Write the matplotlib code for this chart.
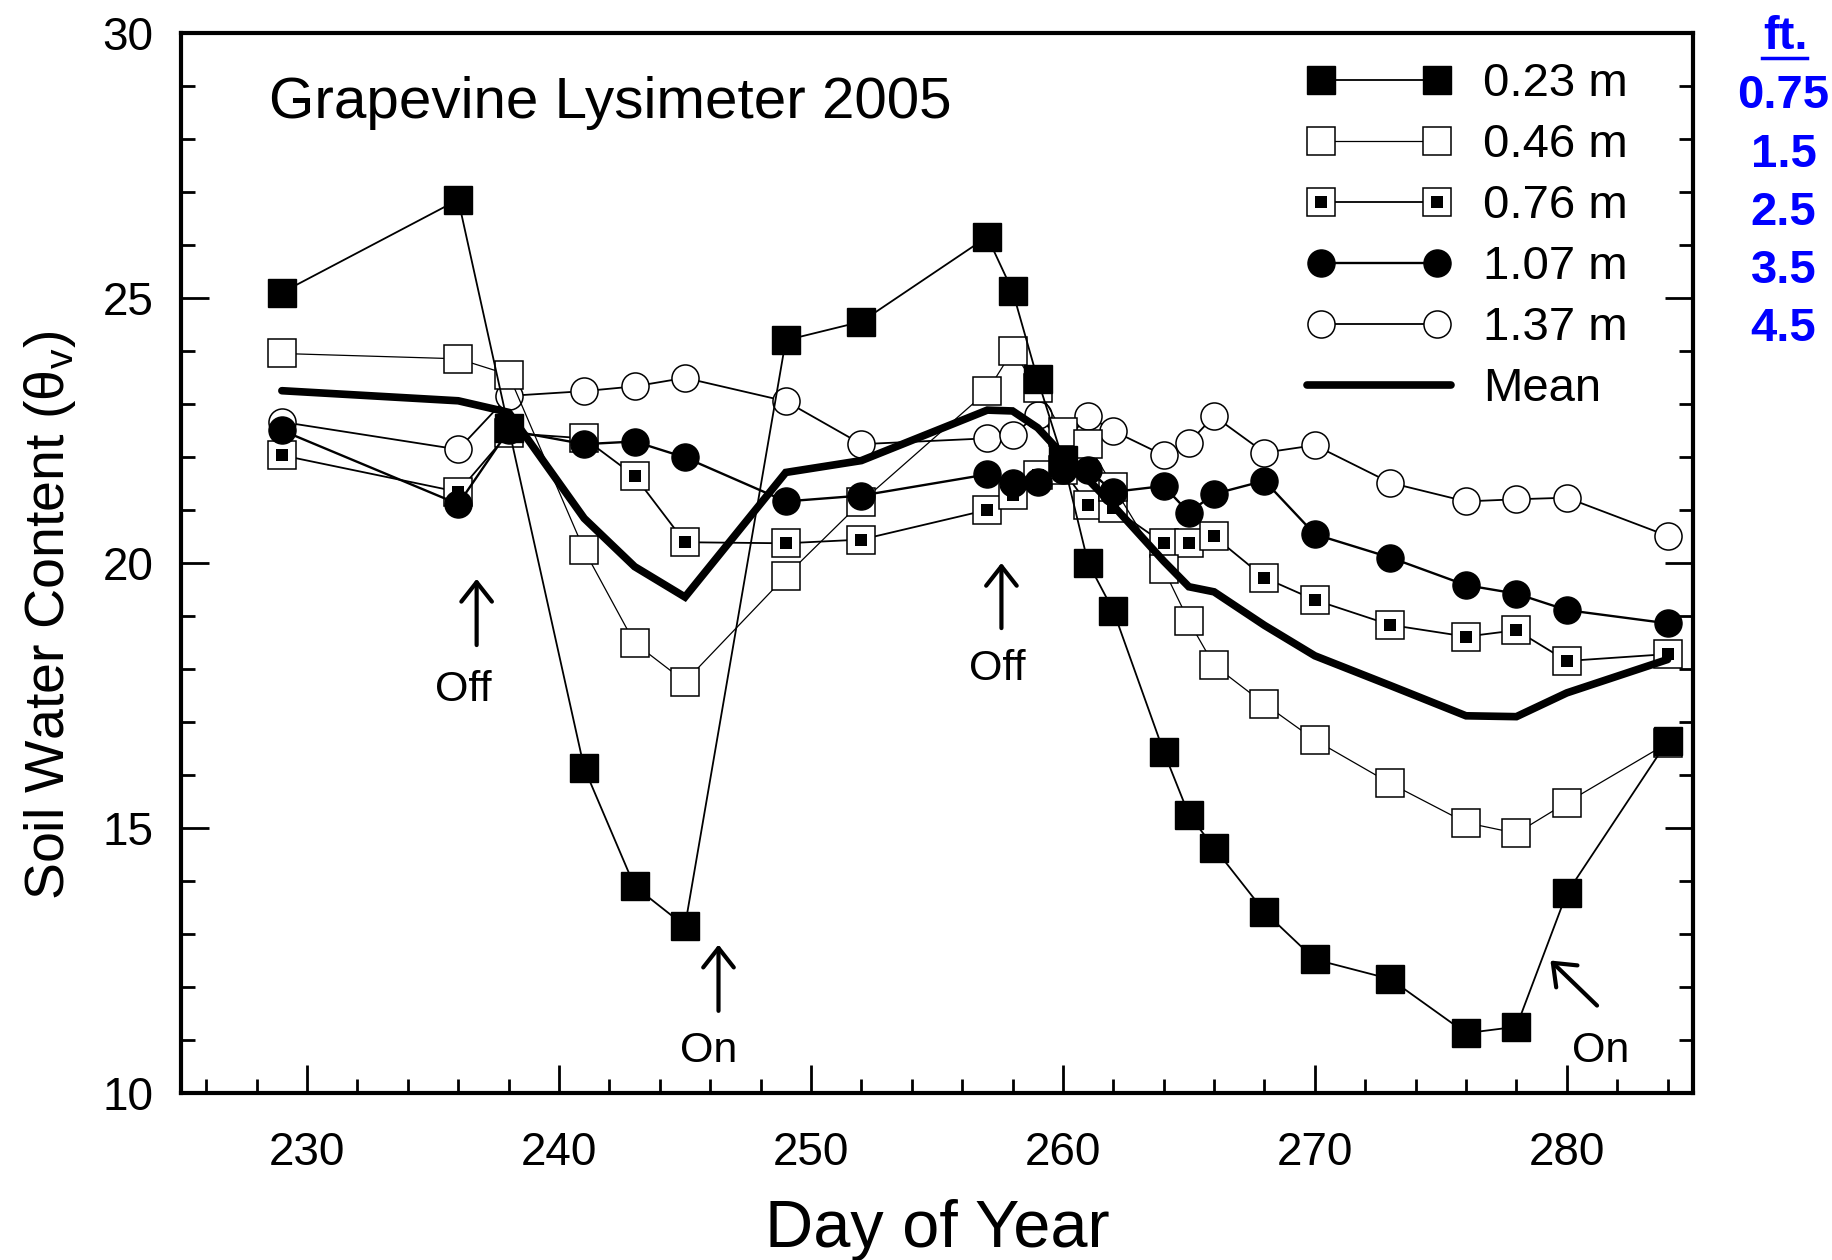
import numpy as np
import matplotlib
matplotlib.use('Agg')
import matplotlib.pyplot as plt
from matplotlib.legend_handler import HandlerLine2D, HandlerTuple
from matplotlib.lines import Line2D
from matplotlib.ticker import MultipleLocator

plt.rcParams['font.family'] = ['Liberation Sans', 'DejaVu Sans']

# day of year of each reading
days = [229, 236, 238, 241, 243, 245, 249, 252, 257, 258, 259, 260,
        261, 262, 264, 265, 266, 268, 270, 273, 276, 278, 280, 284]

# soil water content by depth
swc_023 = [25.1, 26.85, 22.55, 16.13, 13.9, 13.15, 24.2, 24.55, 26.15, 25.13, 23.46, 21.95,
           20.0, 19.1, 16.44, 15.25, 14.63, 13.42, 12.52, 12.15, 11.13, 11.25, 13.77, 16.64]
swc_046 = [23.95, 23.85, 23.55, 20.24, 18.49, 17.76, 19.75, 21.15, 23.24, 24.0, 23.3, 22.46,
           22.24, 21.44, 19.88, 18.9, 18.07, 17.34, 16.66, 15.84, 15.1, 14.9, 15.48, 16.6]
swc_076 = [22.03, 21.34, 22.45, 22.35, 21.64, 20.39, 20.37, 20.44, 21.0, 21.28, 21.66, 21.75,
           21.1, 21.03, 20.37, 20.38, 20.5, 19.72, 19.3, 18.83, 18.61, 18.73, 18.15, 18.28]
swc_107 = [22.5, 21.11, 22.5, 22.24, 22.29, 21.99, 21.16, 21.27, 21.67, 21.5, 21.53, 21.75,
           21.76, 21.34, 21.45, 20.95, 21.3, 21.55, 20.54, 20.1, 19.58, 19.42, 19.11, 18.86]
swc_137 = [22.66, 22.14, 23.15, 23.24, 23.33, 23.49, 23.05, 22.24, 22.35, 22.42, 22.79, 22.26,
           22.77, 22.49, 22.03, 22.27, 22.77, 22.08, 22.22, 21.51, 21.16, 21.2, 21.23, 20.51]

depth_labels = ['0.23 m', '0.46 m', '0.76 m', '1.07 m', '1.37 m']
depth_ft = ['0.75', '1.5', '2.5', '3.5', '4.5']

# irrigation on/off notes: (text, arrow tail, arrow head, text position)
notes = [
    ('Off', (236.73, 18.45), (236.73, 19.7), (236.2, 17.6)),
    ('Off', (257.56, 18.77), (257.56, 20.0), (257.4, 18.0)),
    ('On', (246.33, 11.55), (246.33, 12.8), (245.95, 10.8)),
    ('On', (281.2, 11.65), (279.35, 12.5), (281.35, 10.8)),
]

mean_swc = np.mean([swc_023, swc_046, swc_076, swc_107, swc_137], axis=0)

fig = plt.figure(figsize=(18.33, 12.6), dpi=100)
ax = fig.add_axes([0.0988, 0.1325, 0.8247, 0.8415])

ms = 19.5
l1, = ax.plot(days, swc_023, color='black', lw=1.3, marker='s', ms=ms,
              mfc='black', mec='black', mew=1, zorder=8)
l2, = ax.plot(days, swc_046, color='black', lw=0.9, marker='s', ms=ms,
              mfc='white', mec='black', mew=1.1, zorder=5)
l3a, = ax.plot(days, swc_076, color='black', lw=1.3, marker='s', ms=ms,
               mfc='white', mec='black', mew=1.1, zorder=4)
l3b, = ax.plot(days, swc_076, ls='none', marker='s', ms=8,
               mfc='black', mec='black', mew=0, zorder=4.1)
l4, = ax.plot(days, swc_107, color='black', lw=1.7, marker='o', ms=ms,
              mfc='black', mec='black', mew=1, zorder=6)
l5, = ax.plot(days, swc_137, color='black', lw=1.3, marker='o', ms=ms,
              mfc='white', mec='black', mew=1.1, zorder=3)
lm, = ax.plot(days, mean_swc, color='black', lw=5.5, solid_capstyle='round',
              solid_joinstyle='miter', zorder=7)

for txt, tail, head, pos in notes:
    ax.annotate('', xy=head, xytext=tail,
                arrowprops=dict(arrowstyle='->,head_length=1.4,head_width=1.1',
                                lw=3, color='black', shrinkA=0, shrinkB=0))
    ax.text(pos[0], pos[1], txt, fontsize=31, ha='center', va='center')

ax.set_xlim(225, 285)
ax.set_ylim(10, 30)
ax.xaxis.set_major_locator(MultipleLocator(10))
ax.xaxis.set_minor_locator(MultipleLocator(2))
ax.yaxis.set_major_locator(MultipleLocator(5))
ax.yaxis.set_minor_locator(MultipleLocator(1))
ax.tick_params(which='both', direction='in', width=2, right=True, top=False,
               labelsize=33)
ax.tick_params(which='major', length=20)
ax.tick_params(which='minor', length=10)
ax.tick_params(axis='x', pad=27)
ax.tick_params(axis='y', pad=20)
for sp in ax.spines.values():
    sp.set_linewidth(3)

ax.set_xlabel('Day of Year', fontsize=48)
ax.xaxis.set_label_coords(0.5, -0.1)
ax.set_ylabel('Soil Water Content (θ$_{\\mathregular{v}}$)', fontsize=40)
ax.yaxis.set_label_coords(-0.068, 0.45)

ax.text(0.058, 0.9195, 'Grapevine Lysimeter 2005', transform=ax.transAxes,
        fontsize=42, va='baseline', ha='left')

handles = [l1, l2, (l3a, l3b), l4, l5, lm]
labels = depth_labels + ['Mean']
ax.legend(handles, labels, loc='upper left', bbox_to_anchor=(0.745, 0.972),
          numpoints=2, frameon=False, fontsize=34, handlelength=3.05,
          handletextpad=0.68, labelspacing=0.36, borderpad=0, borderaxespad=0,
          handler_map={tuple: HandlerTuple(ndivide=1),
                       lm: HandlerLine2D(marker_pad=0)})

# depth in feet, right of the frame
fig.text(0.974, 0.971, 'ft.', color='blue', fontsize=34, fontweight='bold',
         ha='center', va='center')
fig.add_artist(Line2D([0.961, 0.986], [0.954, 0.954], color='blue', lw=2.5,
                      transform=fig.transFigure))
for i, f in enumerate(depth_ft):
    fig.text(0.973, 0.9235 - i * 0.0462, f, color='blue', fontsize=34,
             fontweight='bold', ha='center', va='center')

fig.savefig('out.png', dpi=100)
